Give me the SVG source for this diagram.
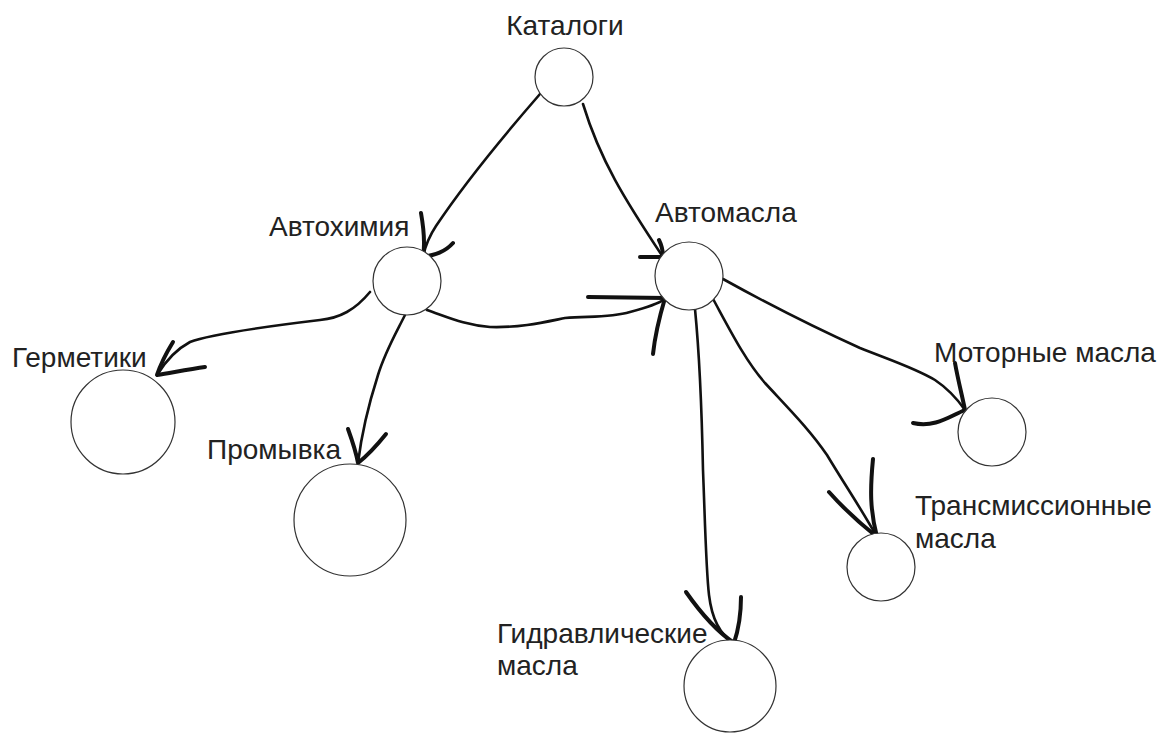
<svg xmlns="http://www.w3.org/2000/svg" width="1170" height="741" viewBox="0 0 1170 741">
<style>
.node circle{fill:#fff;stroke:#333;stroke-width:1.2}
.lbl{font-family:"Liberation Sans",Arial,sans-serif;font-size:28px;fill:#222}
.edge{fill:none;stroke:#111;stroke-width:2.6;stroke-linecap:round;stroke-linejoin:round}
.head{fill:none;stroke:#111;stroke-width:4;stroke-linecap:round;stroke-linejoin:round}
</style>
<rect width="1170" height="741" fill="#fff"/>
<g id="connectors">
<!-- Каталоги -> Автохимия -->
<path class="edge" d="M540,94 C500,140 460,190 436,226 C428,238 425,248 423,256"/>
<path class="head" d="M421,213 C424,230 425,245 423,257 C435,255 445,252 453,243"/>
<!-- Каталоги -> Автомасла -->
<path class="edge" d="M583,104 C600,160 625,200 663,257"/>
<path class="head" d="M659,240 C662,246 663,252 663,257 L640,257"/>
<!-- Автохимия -> Автомасла -->
<path class="edge" d="M427,310 C450,318 465,325 490,327 C520,328 545,322 565,318 C590,316 610,318 630,312 C648,307 658,304 665,299"/>
<path class="head" d="M588,297 L665,298 C660,315 655,335 653,354"/>
<!-- Автохимия -> Герметики -->
<path class="edge" d="M370,292 C355,310 340,318 320,320 C270,326 210,334 190,342 C175,350 165,362 157,375"/>
<path class="head" d="M173,342 C165,355 160,366 157,375 C175,372 190,369 205,367"/>
<!-- Автохимия -> Промывка -->
<path class="edge" d="M405,315 C395,335 385,352 378,375 C370,400 362,430 358,463"/>
<path class="head" d="M348,429 C352,440 356,452 358,463 C368,455 378,444 386,434"/>
<!-- Автомасла -> Моторные масла -->
<path class="edge" d="M723,279 C770,305 820,330 860,348 C890,360 915,368 935,380 C950,390 958,400 965,410"/>
<path class="head" d="M955,363 C958,380 962,395 965,410 C950,416 935,428 913,423"/>
<!-- Автомасла -> Трансмиссионные масла -->
<path class="edge" d="M712,297 C730,330 745,360 765,383 C790,410 810,430 827,455 C845,485 862,510 877,537"/>
<path class="head" d="M829,492 C845,510 862,525 877,537 C870,510 870,490 873,459"/>
<!-- Автомасла -> Гидравлические масла -->
<path class="edge" d="M695,309 C700,360 702,420 703,470 C705,520 706,570 709,595 C712,620 720,635 734,643"/>
<path class="head" d="M686,592 C700,612 715,630 734,643 C740,625 741,612 741,597"/>
</g>
<g id="node-katalogi" class="node">
<circle cx="564" cy="77" r="29"/>
<text class="lbl" x="565" y="35" text-anchor="middle">Каталоги</text>
</g>
<g id="node-avtohimiya" class="node">
<circle cx="407" cy="281" r="34"/>
<text class="lbl" x="269" y="236">Автохимия</text>
</g>
<g id="node-avtomasla" class="node">
<circle cx="689" cy="276" r="34"/>
<text class="lbl" x="655" y="222">Автомасла</text>
</g>
<g id="node-germetiki" class="node">
<circle cx="123" cy="422" r="52"/>
<text class="lbl" x="12" y="367">Герметики</text>
</g>
<g id="node-promyvka" class="node">
<circle cx="350" cy="520" r="56"/>
<text class="lbl" x="207" y="459">Промывка</text>
</g>
<g id="node-motornye" class="node">
<circle cx="992" cy="432" r="34"/>
<text class="lbl" x="934" y="362">Моторные масла</text>
</g>
<g id="node-transmissionnye" class="node">
<circle cx="881" cy="567" r="34"/>
<text class="lbl" x="915" y="515">Трансмиссионные</text>
<text class="lbl" x="915" y="548">масла</text>
</g>
<g id="node-gidravlicheskie" class="node">
<circle cx="730" cy="686" r="46"/>
<text class="lbl" x="497" y="643">Гидравлические</text>
<text class="lbl" x="497" y="675">масла</text>
</g>
</svg>
